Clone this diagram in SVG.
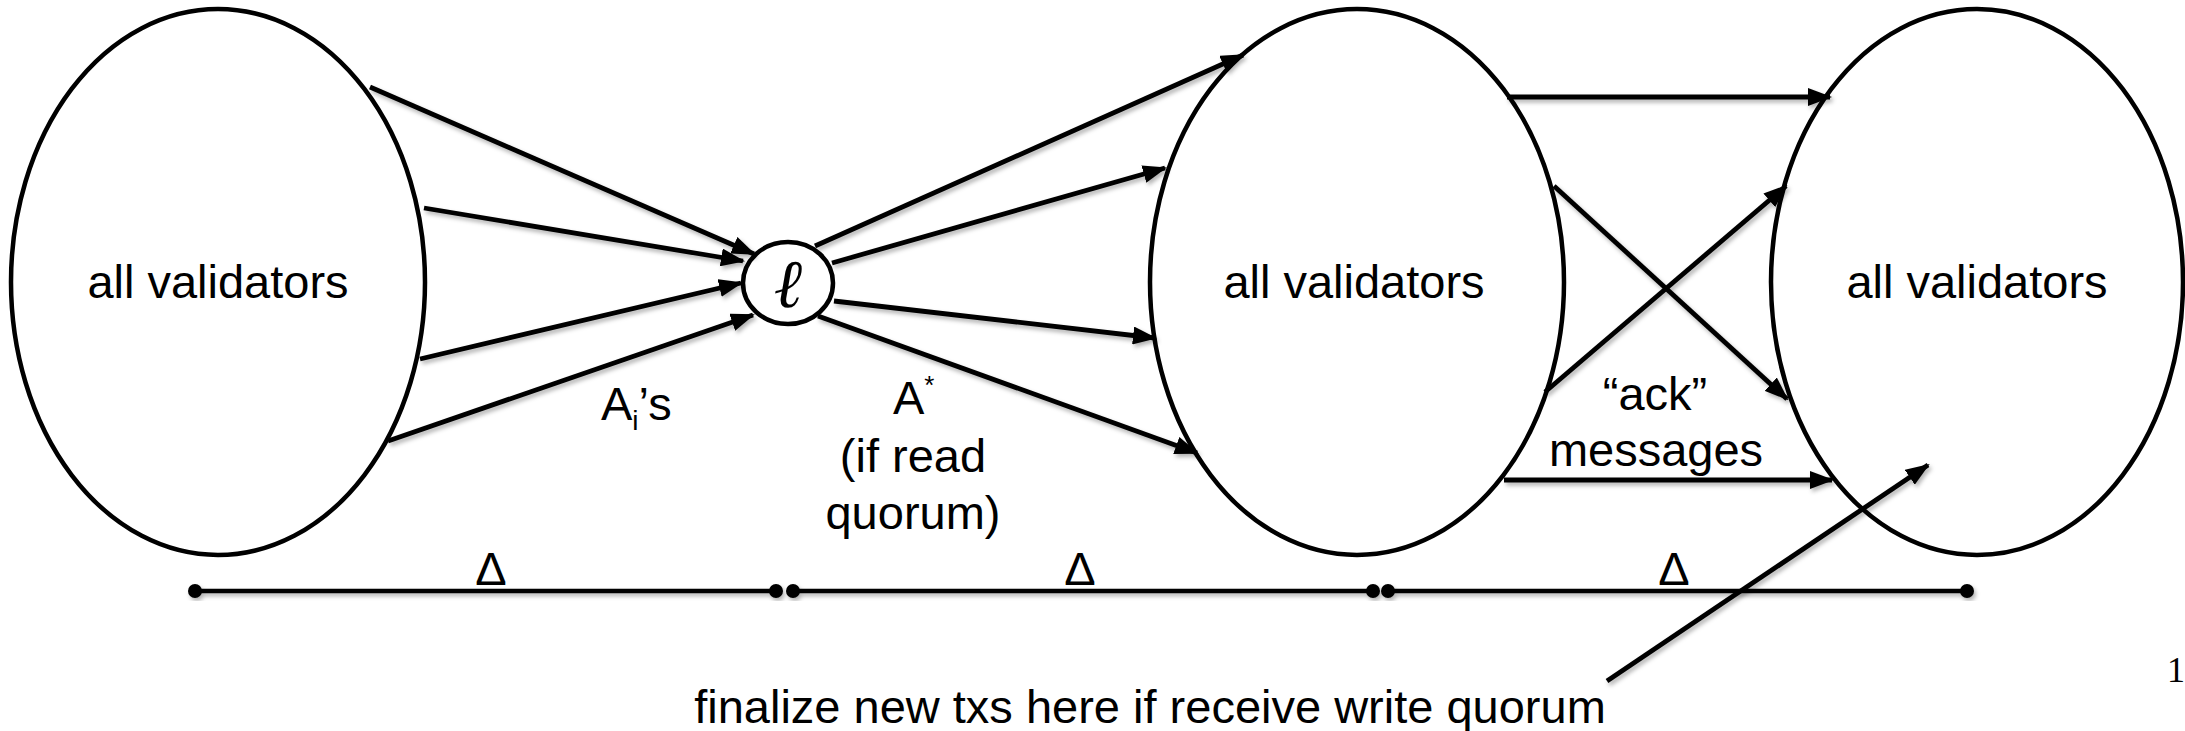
<svg xmlns="http://www.w3.org/2000/svg" width="2185" height="731" viewBox="0 0 2185 731">
<style>
  .node { fill: #fff; stroke: #000; stroke-width: 4.5; }
  .lbl { font-family: "Liberation Sans", Arial, sans-serif; font-size: 47px; fill: #000; }
  .c { text-anchor: middle; }
  .conn line { stroke: #000; stroke-width: 4.8; marker-end: url(#ah); }
  .tl line { stroke: #000; stroke-width: 4.5; }
  .tl circle { fill: #000; }
</style>
<defs>
  <marker id="ah" markerUnits="userSpaceOnUse" markerWidth="24" markerHeight="18" refX="22" refY="9" orient="auto">
    <path d="M0,0 L24,9 L0,18 z" fill="#000"/>
  </marker>
  <filter id="sh" x="-5%" y="-5%" width="110%" height="120%">
    <feDropShadow dx="2" dy="3" stdDeviation="2" flood-color="#000" flood-opacity="0.3"/>
  </filter>
</defs>
<rect width="2185" height="731" fill="#fff"/>

<g id="validators1">
  <ellipse class="node" cx="218" cy="282" rx="207" ry="273"/>
  <text class="lbl c" x="218" y="298">all validators</text>
</g>
<g id="leader">
  <ellipse class="node" cx="788" cy="283" rx="45" ry="41"/>
  <text x="788" y="307" text-anchor="middle" font-family="'DejaVu Serif', 'Liberation Serif', serif" font-style="italic" font-size="68">ℓ</text>
</g>
<g id="validators2">
  <ellipse class="node" cx="1357" cy="282" rx="207" ry="273"/>
  <text class="lbl c" x="1354" y="298">all validators</text>
</g>
<g id="validators3">
  <ellipse class="node" cx="1977" cy="282" rx="206" ry="273"/>
  <text class="lbl c" x="1977" y="298">all validators</text>
</g>

<g id="connectors" class="conn" filter="url(#sh)">
  <line x1="370" y1="87" x2="754" y2="254"/>
  <line x1="424" y1="208" x2="743" y2="261"/>
  <line x1="420" y1="359" x2="741" y2="283"/>
  <line x1="388" y1="441" x2="753" y2="315"/>
  <line x1="815" y1="246" x2="1243" y2="55"/>
  <line x1="832" y1="263" x2="1165" y2="168"/>
  <line x1="834" y1="301" x2="1155" y2="338"/>
  <line x1="818" y1="316" x2="1197" y2="453"/>
  <line x1="1507" y1="97" x2="1830" y2="97"/>
  <line x1="1554" y1="186" x2="1787" y2="399"/>
  <line x1="1545" y1="392" x2="1786" y2="186"/>
  <line x1="1504" y1="480" x2="1832" y2="480"/>
  <line x1="1607" y1="681" x2="1928" y2="465"/>
</g>

<g id="timeline" class="tl" filter="url(#sh)">
  <line x1="195" y1="591" x2="776" y2="591"/>
  <line x1="793" y1="591" x2="1373" y2="591"/>
  <line x1="1388" y1="591" x2="1967" y2="591"/>
  <circle cx="195" cy="591" r="7"/>
  <circle cx="776" cy="591" r="7"/>
  <circle cx="793" cy="591" r="7"/>
  <circle cx="1373" cy="591" r="7"/>
  <circle cx="1388" cy="591" r="7"/>
  <circle cx="1967" cy="591" r="7"/>
</g>

<g id="labels">
  <text class="lbl c" x="491" y="585" font-size="46">Δ</text>
  <text class="lbl c" x="1080" y="585" font-size="46">Δ</text>
  <text class="lbl c" x="1674" y="585" font-size="46">Δ</text>
  <text class="lbl" x="601" y="420">A<tspan font-size="28" dy="10">i</tspan><tspan dy="-10">’s</tspan></text>
  <text class="lbl" x="893" y="414">A<tspan font-size="26" dy="-20">*</tspan></text>
  <text class="lbl c" x="913" y="472">(if read</text>
  <text class="lbl c" x="913" y="529">quorum)</text>
  <text class="lbl c" x="1655" y="410">“ack”</text>
  <text class="lbl c" x="1656" y="466">messages</text>
  <text class="lbl c" x="1150" y="723">finalize new txs here if receive write quorum</text>
  <text x="2167" y="682" font-family="'Liberation Serif', serif" font-size="36" fill="#000">1</text>
</g>
</svg>
